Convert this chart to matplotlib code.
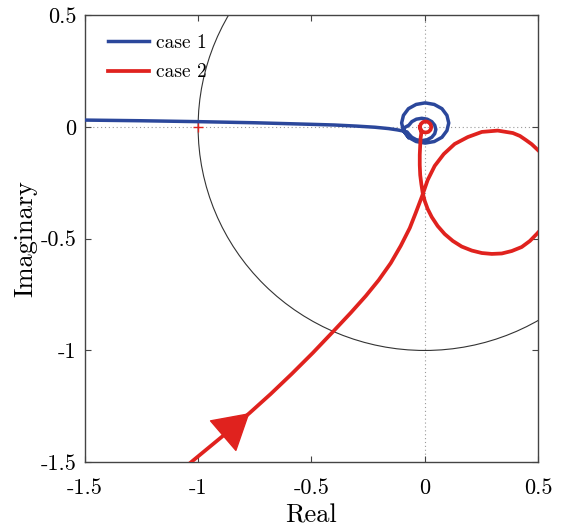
import numpy as np
import matplotlib
matplotlib.use('Agg')
import matplotlib.pyplot as plt
from matplotlib.patches import Circle, FancyArrowPatch

plt.rcParams['font.family'] = ['cmr10', 'DejaVu Serif']
plt.rcParams['axes.unicode_minus'] = False

# case 1 (blue): long tail from the left, then two loops round the origin
blue_re = [-1.6, -1.5, -1.25, -1.0, -0.75, -0.5, -0.4, -0.3, -0.22, -0.16, -0.12, -0.095, -0.078,
           -0.070, -0.057, -0.037, -0.013, 0.011, 0.031, 0.044, 0.049, 0.044, 0.031, 0.011,
           -0.013, -0.037, -0.057, -0.070,
           -0.088, -0.094, -0.072, -0.038, 0.002, 0.042, 0.076, 0.098, 0.106, 0.098, 0.076, 0.042,
           0.002, -0.038, -0.072, -0.094, -0.102, -0.094, -0.072]
blue_im = [0.033, 0.031, 0.028, 0.024, 0.019, 0.012, 0.009, 0.004, -0.001, -0.007, -0.013, -0.018, -0.022,
           -0.032, -0.046, -0.057, -0.061, -0.057, -0.046, -0.030, -0.011, 0.008, 0.024, 0.035,
           0.039, 0.035, 0.024, 0.008,
           -0.002, -0.016, -0.046, -0.065, -0.072, -0.065, -0.046, -0.016, 0.018, 0.052, 0.082, 0.101,
           0.108, 0.101, 0.082, 0.052, 0.018, -0.016, -0.046]

# case 2 (red): comes in from the bottom left, big loop on the right, small loop at origin
red_re = [-1.082, -1.024, -0.896, -0.773, -0.680, -0.587, -0.494, -0.402, -0.327, -0.260, -0.203,
          -0.150, -0.106, -0.066, -0.040, -0.013,
          0.013, 0.044, 0.084, 0.132, 0.190, 0.252, 0.322, 0.389, 0.420, 0.446, 0.472, 0.494, 0.518, 0.543,
          0.60, 0.615, 0.60,
          0.543, 0.494, 0.464, 0.428, 0.384, 0.340, 0.296, 0.252, 0.208, 0.163, 0.124, 0.088,
          0.057, 0.031, 0.013, 0.0, -0.009, -0.015, -0.020, -0.022, -0.022, -0.020, -0.018, -0.015,
          -0.021, -0.018, -0.0085, 0.004, 0.0165, 0.0257, 0.029, 0.0257, 0.0165, 0.004, -0.0085,
          -0.018, -0.021]
red_im = [-1.544, -1.494, -1.387, -1.280, -1.195, -1.105, -1.011, -0.913, -0.832, -0.756, -0.685,
          -0.609, -0.532, -0.452, -0.385, -0.313,
          -0.237, -0.174, -0.121, -0.076, -0.045, -0.022, -0.016, -0.027, -0.040, -0.058, -0.077, -0.098,
          -0.121, -0.148,
          -0.22, -0.29, -0.36,
          -0.425, -0.479, -0.510, -0.537, -0.555, -0.566, -0.568, -0.564, -0.553, -0.535, -0.510, -0.479,
          -0.443, -0.403, -0.367, -0.331, -0.295, -0.255, -0.215, -0.170, -0.125, -0.081, -0.049, -0.027,
          0.0, 0.0125, 0.0217, 0.025, 0.0217, 0.0125, 0.0, -0.0125, -0.0217, -0.025, -0.0217,
          -0.0125, 0.0]

ticks = [-1.5, -1, -0.5, 0, 0.5]
tick_labels = ['-1.5', '-1', '-0.5', '0', '0.5']

blue = '#2B479B'
red = '#E0221E'

fig = plt.figure(figsize=(5.73, 5.27), dpi=100)
ax = fig.add_axes([0.148, 0.123, 0.791, 0.848])

# reference lines and unit circle
ax.axhline(0, color='#999999', ls=(0, (1, 2.5)), lw=0.8, zorder=1)
ax.axvline(0, color='#999999', ls=(0, (1, 2.5)), lw=0.8, zorder=1)
ax.add_patch(Circle((0, 0), 1, fill=False, ec='#333333', lw=0.8, zorder=1))
ax.plot([-1], [0], marker='+', ms=7, mew=1.0, color=red, zorder=2)

ax.plot(blue_re, blue_im, color=blue, lw=2.5, label='case 1', zorder=3,
        solid_joinstyle='round')
ax.plot(red_re, red_im, color=red, lw=2.7, label='case 2', zorder=4,
        solid_joinstyle='round')

# direction arrow on case 2
arr = FancyArrowPatch((red_re[2], red_im[2]), (red_re[3], red_im[3]),
                      arrowstyle='-|>,head_length=24,head_width=14', mutation_scale=1,
                      color=red, lw=1, shrinkA=0, shrinkB=0, zorder=5)
ax.add_patch(arr)

ax.set_xlim(-1.5, 0.5)
ax.set_ylim(-1.5, 0.5)
ax.set_xticks(ticks)
ax.set_xticklabels(tick_labels)
ax.set_yticks(ticks)
ax.set_yticklabels(tick_labels)
ax.tick_params(direction='in', length=4, width=0.8, top=True, right=True,
               labelsize=16, color='#444444')
ax.tick_params(axis='x', pad=12)
ax.tick_params(axis='y', pad=6)
for s in ax.spines.values():
    s.set_color('#444444')
    s.set_linewidth(1.0)

ax.set_xlabel('Real', fontsize=19, labelpad=4)
ax.set_ylabel('Imaginary', fontsize=19, labelpad=2)

ax.legend(loc='upper left', bbox_to_anchor=(0.022, 0.989), frameon=False, fontsize=14,
          handlelength=2.1, handletextpad=0.35, labelspacing=0.6, borderaxespad=0.3)

fig.savefig('out.png', dpi=100)
